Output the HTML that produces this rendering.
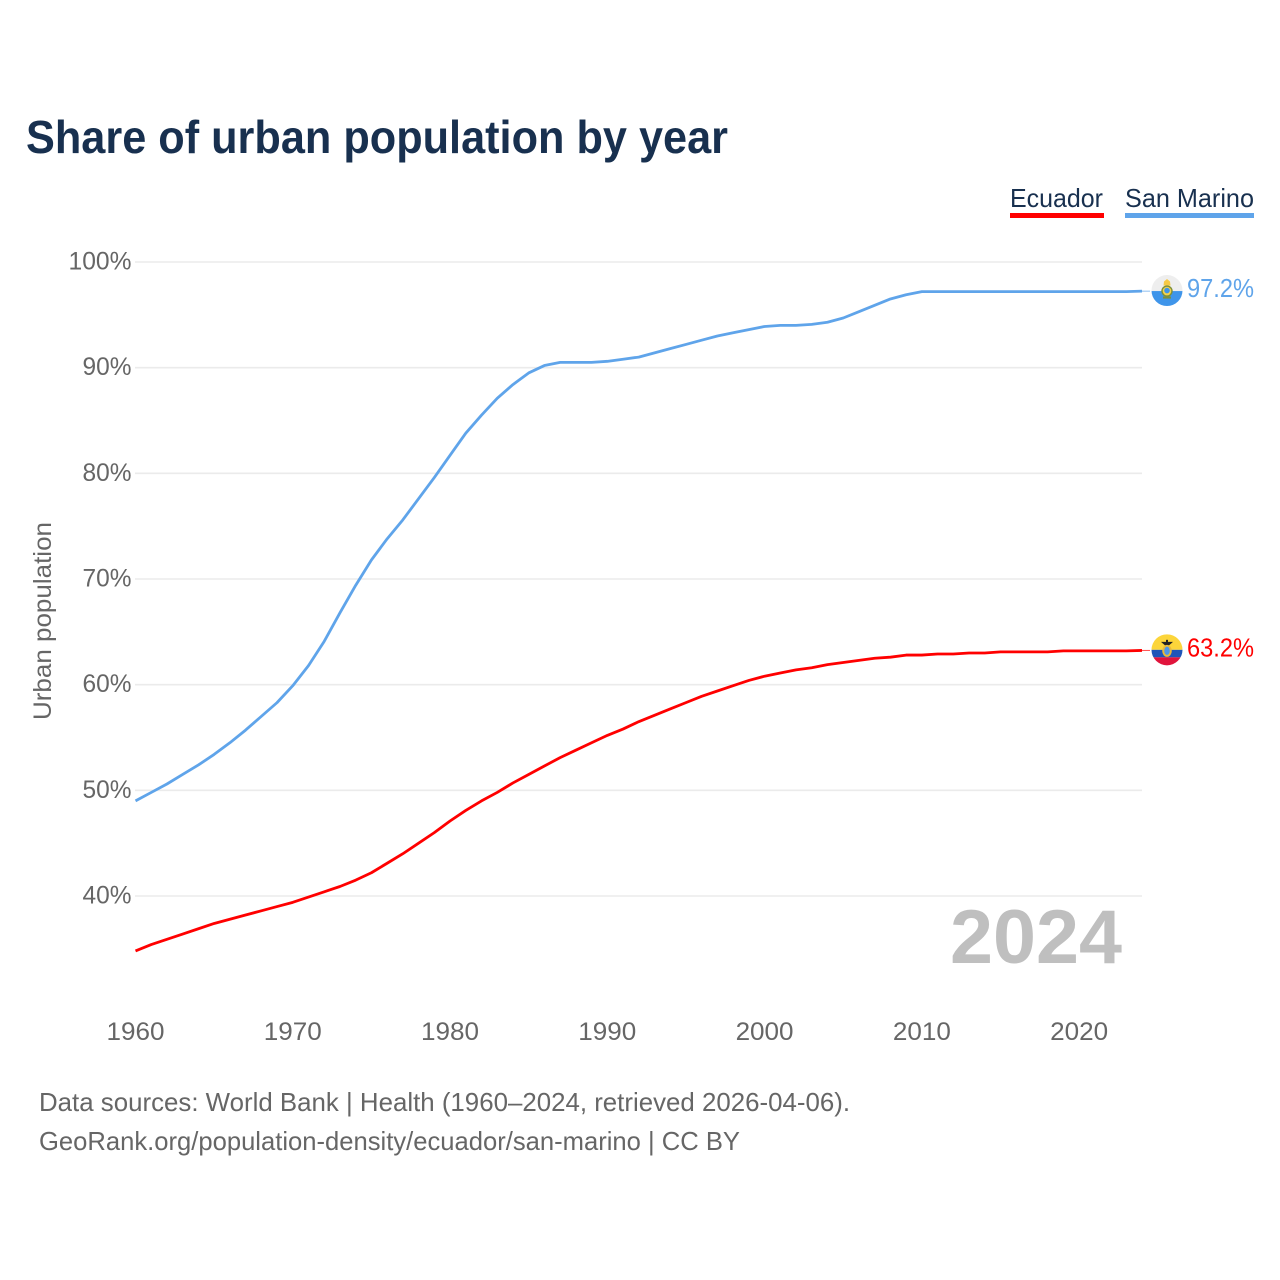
<!DOCTYPE html>
<html lang="en">
<head>
<meta charset="utf-8">
<title>Share of urban population by year</title>
<style>
  html, body { margin: 0; padding: 0; background: #fff; }
  svg { display: block; font-family: "Liberation Sans", sans-serif; }
</style>
</head>
<body>
<svg id="chart" width="1280" height="1280" viewBox="0 0 1280 1280" xmlns="http://www.w3.org/2000/svg">
  <rect x="0" y="0" width="1280" height="1280" fill="#ffffff"/>
  <text x="26" y="153" font-size="46" font-weight="700" fill="#18304f" textLength="702" lengthAdjust="spacingAndGlyphs">Share of urban population by year</text>

  <g>
    <g>
      <text x="1010" y="207" font-size="26" fill="#18304f" textLength="93" lengthAdjust="spacingAndGlyphs">Ecuador</text>
      <rect x="1010" y="213" width="94" height="5" fill="#ff0000"/>
    </g>
    <g>
      <text x="1125" y="207" font-size="26" fill="#18304f" textLength="129" lengthAdjust="spacingAndGlyphs">San Marino</text>
      <rect x="1125" y="213" width="129" height="5" fill="#5fa4ea"/>
    </g>
  </g>

  <g id="grid"></g>
  <g id="yTicks"></g>
  <g id="xTicks"></g>

  <text transform="translate(51,621) rotate(-90)" text-anchor="middle" font-size="25" fill="#666666" textLength="198" lengthAdjust="spacingAndGlyphs">Urban population</text>

  <text x="1122" y="963" text-anchor="end" font-size="76" font-weight="700" fill="#bfbfbf" textLength="172" lengthAdjust="spacingAndGlyphs">2024</text>

  <g id="series"></g>

  <defs>
    <clipPath id="clip-sm"><circle cx="1167" cy="290" r="15.5"/></clipPath>
    <clipPath id="clip-ec"><circle cx="1167" cy="650" r="15.5"/></clipPath>
  </defs>

  <g id="flag-san-marino">
    <g clip-path="url(#clip-sm)">
      <rect x="1150" y="270" width="34" height="20.5" fill="#eeeeee"/>
      <rect x="1150" y="290.5" width="34" height="20" fill="#3f95ea"/>
    </g>
    <path d="M1163.5 285 L1164 281 L1167 278.5 L1170 281 L1170.5 285 Z" fill="#f6c945"/>
    <circle cx="1167" cy="290.5" r="5" fill="#f6d24a" stroke="#7d8f3a" stroke-width="1.4"/>
    <circle cx="1167" cy="290" r="2.8" fill="#3f95ea"/>
    <rect x="1163" y="296" width="8" height="2" fill="#7d8f3a"/>
  </g>
  <g id="flag-ecuador">
    <g clip-path="url(#clip-ec)">
      <rect x="1150" y="630" width="34" height="20" fill="#fcd53a"/>
      <rect x="1150" y="650" width="34" height="7.5" fill="#1f55b8"/>
      <rect x="1150" y="657.5" width="34" height="12" fill="#e0143c"/>
    </g>
    <path d="M1161 642 L1173 642 L1169 645.5 L1165 645.5 Z" fill="#222222"/>
    <rect x="1166" y="640" width="2" height="5" fill="#222222"/>
    <ellipse cx="1167" cy="651" rx="4.8" ry="6" fill="#e9b93a"/>
    <ellipse cx="1167" cy="651" rx="2.8" ry="4.2" fill="#4f97e8"/>
  </g>

  <g id="endLabels"></g>

  <text x="39" y="1111" font-size="26" fill="#666666" textLength="811" lengthAdjust="spacingAndGlyphs">Data sources: World Bank | Health (1960–2024, retrieved 2026-04-06).</text>
  <text x="39" y="1150" font-size="26" fill="#666666" textLength="701" lengthAdjust="spacingAndGlyphs">GeoRank.org/population-density/ecuador/san-marino | CC BY</text>
</svg>

<script>
var years = [];
for (var yr = 1960; yr <= 2024; yr++) { years.push(yr); }
var ecuadorValues = [34.8,35.4,35.9,36.4,36.9,37.4,37.8,38.2,38.6,39.0,39.4,39.9,40.4,40.9,41.5,42.2,43.1,44.0,45.0,46.0,47.1,48.1,49.0,49.8,50.7,51.5,52.3,53.1,53.8,54.5,55.2,55.8,56.5,57.1,57.7,58.3,58.9,59.4,59.9,60.4,60.8,61.1,61.4,61.6,61.9,62.1,62.3,62.5,62.6,62.8,62.8,62.9,62.9,63.0,63.0,63.1,63.1,63.1,63.1,63.2,63.2,63.2,63.2,63.2,63.24];
var sanMarinoValues = [49.0,49.8,50.6,51.5,52.4,53.4,54.5,55.7,57.0,58.3,59.9,61.8,64.1,66.8,69.4,71.8,73.8,75.6,77.6,79.6,81.7,83.8,85.5,87.1,88.4,89.5,90.2,90.5,90.5,90.5,90.6,90.8,91.0,91.4,91.8,92.2,92.6,93.0,93.3,93.6,93.9,94.0,94.0,94.1,94.3,94.7,95.3,95.9,96.5,96.9,97.2,97.2,97.2,97.2,97.2,97.2,97.2,97.2,97.2,97.2,97.2,97.2,97.2,97.2,97.24];
var yTickValues = [40,50,60,70,80,90,100];
var xTickValues = [1960,1970,1980,1990,2000,2010,2020];

function xScale(year) { return 135.5 + (year - 1960) * (1142 - 135.5) / 64; }
function yScale(pct) { return 896 - (pct - 40) * (896 - 262) / 60; }

var NS = 'http://www.w3.org/2000/svg';
function make(tag, attrs, parent, text) {
  var el = document.createElementNS(NS, tag);
  for (var k in attrs) { el.setAttribute(k, attrs[k]); }
  if (text !== undefined) { el.textContent = text; }
  parent.appendChild(el);
  return el;
}

var gridGroup = document.getElementById('grid');
var yTickGroup = document.getElementById('yTicks');
var xTickGroup = document.getElementById('xTicks');
var seriesGroup = document.getElementById('series');
var labelGroup = document.getElementById('endLabels');

yTickValues.forEach(function (v) {
  var line = make('line', {x1: 135, x2: 1142, y1: yScale(v), y2: yScale(v), stroke: '#ebebeb', 'stroke-width': 1.6}, gridGroup);
  
  
  var label = make('text', {x: 131.5, y: yScale(v) + 7.5, 'text-anchor': 'end', 'font-size': 25, fill: '#666666', textLength: v === 100 ? 63 : 49, lengthAdjust: 'spacingAndGlyphs'}, yTickGroup, v + '%');
  
  
});

xTickValues.forEach(function (v) {
  var label = make('text', {x: xScale(v), y: 1040, 'text-anchor': 'middle', 'font-size': 25, fill: '#666666', textLength: 58, lengthAdjust: 'spacingAndGlyphs'}, xTickGroup, String(v));
  
  
});

function drawSeries(values, color, name, flagBaseY) {
  var d = values.map(function (v, i) {
    return (i ? 'L' : 'M') + xScale(years[i]).toFixed(2) + ' ' + yScale(v).toFixed(2);
  }).join(' ');
  var path = make('path', {d: d, fill: 'none', stroke: color, 'stroke-width': 2.8, 'stroke-linejoin': 'round'}, seriesGroup);
  
  

  var last = values[values.length - 1];
  var endX = xScale(years[years.length - 1]);
  var endY = yScale(last);
  var connector = make('line', {x1: endX, x2: 1150, y1: endY, y2: endY, stroke: color, 'stroke-width': 1, opacity: 0.7}, seriesGroup);
  
  

  var label = make('text', {x: 1254, y: endY + 6, 'text-anchor': 'end', 'font-size': 25.5, fill: color, textLength: 67, lengthAdjust: 'spacingAndGlyphs'}, labelGroup, last.toFixed(1) + '%');
  
  

  var flag = document.getElementById('flag-' + name);
  flag.setAttribute('transform', 'translate(0,' + (endY - 0.6 - flagBaseY).toFixed(2) + ')');
}

drawSeries(ecuadorValues, '#ff0000', 'ecuador', 650);
drawSeries(sanMarinoValues, '#5fa4ea', 'san-marino', 290);
</script>
</body>
</html>
